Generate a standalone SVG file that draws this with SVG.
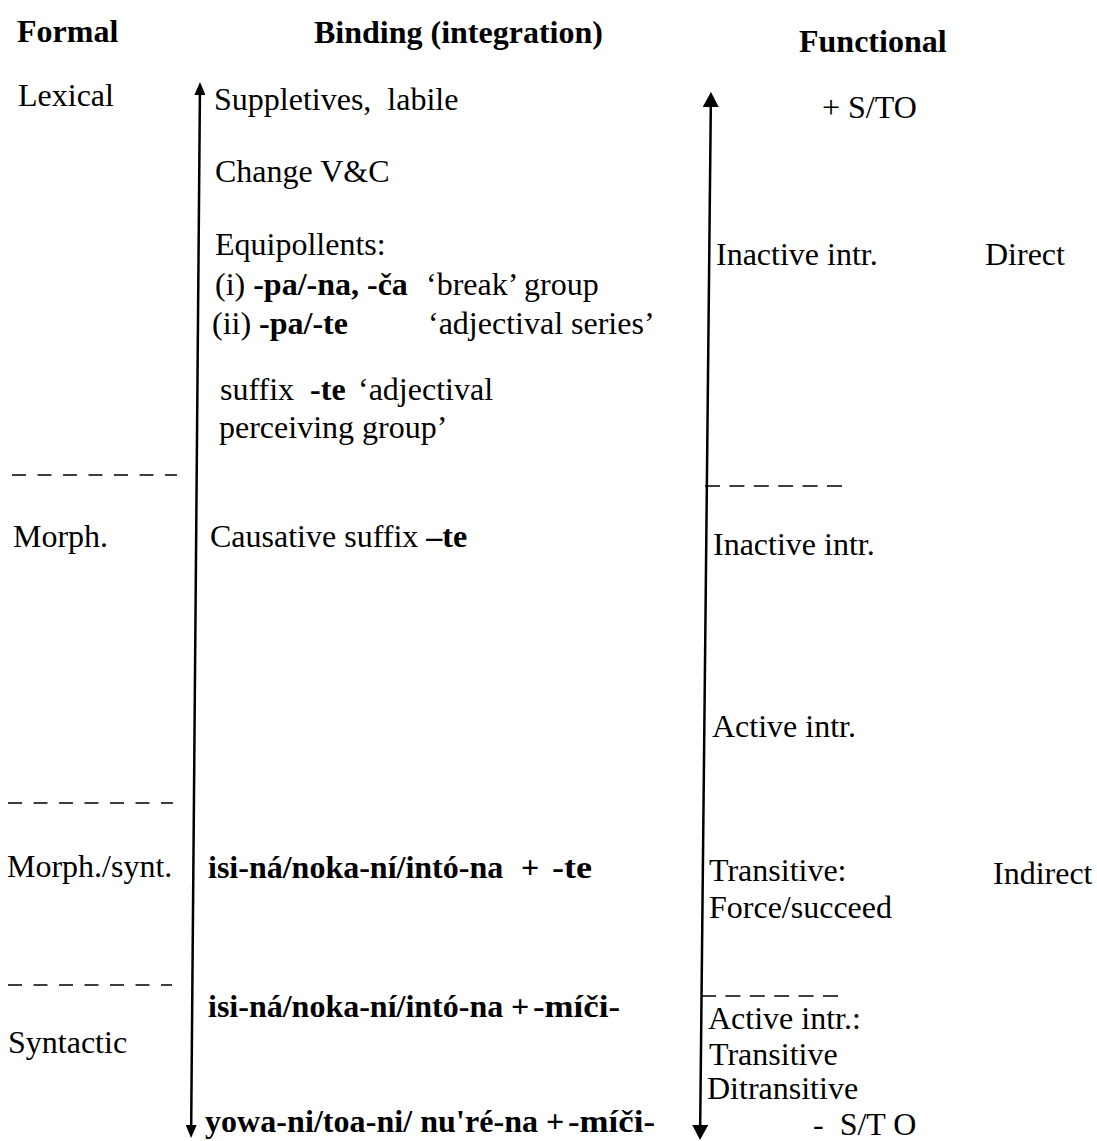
<svg xmlns="http://www.w3.org/2000/svg" width="1097" height="1141" viewBox="0 0 1097 1141">
<style>
text{font-family:"Liberation Serif","Times New Roman",serif;font-size:32px;fill:#000;white-space:pre}
.b{font-weight:bold}
.dash{stroke:#000;stroke-width:1.6;fill:none}
.dl{stroke-dasharray:14 11.5}
.dr{stroke-dasharray:15 9.4}
.axis{stroke:#000;stroke-width:2.5;fill:none}
</style>
<defs>
<marker id="ahS" viewBox="0 0 13 11" refX="0" refY="5.5" markerWidth="13" markerHeight="11" markerUnits="userSpaceOnUse" orient="auto-start-reverse"><path d="M0,0 L13,5.5 L0,11 z" fill="#000"/></marker>
<marker id="ahL" viewBox="0 0 15 16" refX="0" refY="8" markerWidth="15" markerHeight="16" markerUnits="userSpaceOnUse" orient="auto-start-reverse"><path d="M0,0 L15,8 L0,16 z" fill="#000"/></marker>
</defs>
<rect width="1097" height="1141" fill="#fff"/>

<g id="headers">
<text id="h-formal" class="b" x="17" y="42">Formal</text>
<text id="h-binding" class="b" x="314" y="43">Binding (integration)</text>
<text id="h-functional" class="b" x="799" y="52">Functional</text>
</g>

<g id="formal-levels">
<text id="f-lexical" x="18" y="106">Lexical</text>
<text id="f-morph" x="13" y="547">Morph.</text>
<text id="f-morphsynt" x="7" y="877">Morph./synt.</text>
<text id="f-syntactic" x="8" y="1053">Syntactic</text>
</g>

<g id="separators">
<line class="dash dl" x1="12" y1="475" x2="177" y2="475"/>
<line class="dash dl" x1="8" y1="803" x2="173" y2="803"/>
<line class="dash dl" x1="8" y1="985" x2="172" y2="985"/>
<line class="dash dr" x1="705" y1="486" x2="842" y2="486"/>
<line class="dash dr" x1="701" y1="996" x2="838" y2="996"/>
</g>

<g id="connectors">
<path id="binding-axis" class="axis" d="M199.9,95 L191.2,1125" marker-start="url(#ahS)" marker-end="url(#ahS)"/>
<path id="functional-axis" class="axis" d="M710.8,107 L700.2,1125" marker-start="url(#ahL)" marker-end="url(#ahL)"/>
</g>

<g id="binding-items">
<g id="b-suppletives"><text x="214" y="110">Suppletives,  labile</text></g>
<g id="b-change"><text x="215" y="182">Change V&amp;C</text></g>
<g id="b-equipollents">
<text x="215" y="255">Equipollents:</text>
<text x="215" y="295">(i) <tspan class="b">-pa/-na, -ča</tspan><tspan x="426">‘break’ group</tspan></text>
<text x="212" y="334">(ii) <tspan class="b">-pa/-te</tspan><tspan x="428">‘adjectival series’</tspan></text>
</g>
<g id="b-suffix-te">
<text x="220" y="400">suffix  <tspan class="b">-te</tspan><tspan x="358">‘adjectival</tspan></text>
<text x="219" y="438">perceiving group’</text>
</g>
<g id="b-causative"><text x="210" y="547">Causative suffix <tspan class="b">–te</tspan></text></g>
<g id="b-isina-te">
<text class="b" x="208" y="878">isi-ná/noka-ní/intó-na</text>
<text class="b" x="521" y="878">+</text>
<text class="b" x="552" y="878" textLength="40" lengthAdjust="spacingAndGlyphs">-te</text>
</g>
<g id="b-isina-mici">
<text class="b" x="208" y="1017">isi-ná/noka-ní/intó-na</text>
<text class="b" x="511" y="1017">+</text>
<text class="b" x="533" y="1017" textLength="87" lengthAdjust="spacingAndGlyphs">-míči-</text>
</g>
<g id="b-yowa-mici">
<text class="b" x="205" y="1132" textLength="333" lengthAdjust="spacing">yowa-ni/toa-ni/ nu'ré-na</text>
<text class="b" x="546" y="1132">+</text>
<text class="b" x="568" y="1132" textLength="87" lengthAdjust="spacingAndGlyphs">-míči-</text>
</g>
</g>

<g id="functional-items">
<g id="fn-plus-sto"><text x="822" y="118">+ S/TO</text></g>
<g id="fn-inactive1"><text x="716" y="265">Inactive intr.</text></g>
<g id="fn-direct"><text x="985" y="265">Direct</text></g>
<g id="fn-inactive2"><text x="713" y="555">Inactive intr.</text></g>
<g id="fn-active"><text x="712" y="737">Active intr.</text></g>
<g id="fn-transitive">
<text x="709" y="881">Transitive:</text>
<text x="709" y="918">Force/succeed</text>
</g>
<g id="fn-indirect"><text x="993" y="884">Indirect</text></g>
<g id="fn-active-list">
<text x="708" y="1029">Active intr.:</text>
<text x="709" y="1065">Transitive</text>
<text x="707" y="1099">Ditransitive</text>
</g>
<g id="fn-minus-sto"><text x="813" y="1135">-  S/T O</text></g>
</g>
</svg>
